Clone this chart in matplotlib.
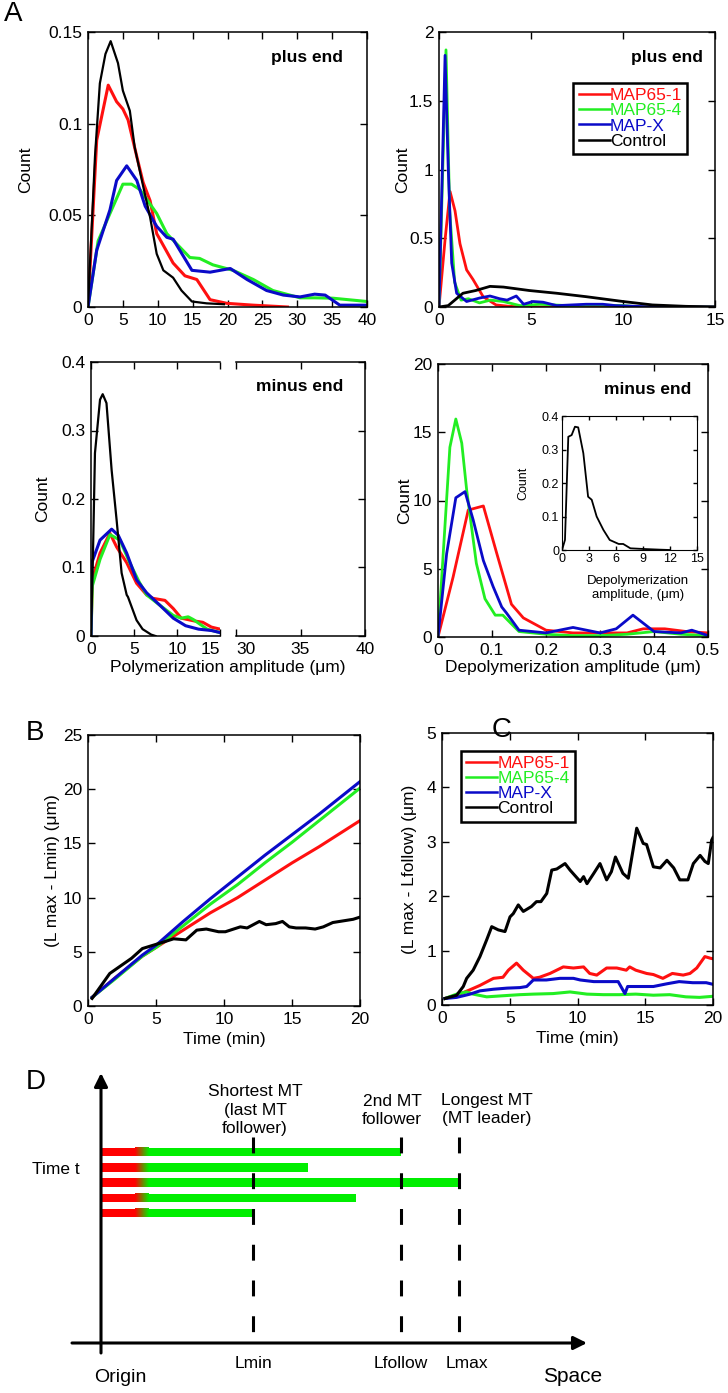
import numpy as np
import matplotlib
matplotlib.use('Agg')
import matplotlib.pyplot as plt
from matplotlib.patches import Rectangle
from matplotlib.colors import LinearSegmentedColormap

plt.rcParams['font.family'] = ['Liberation Sans', 'DejaVu Sans']

# ---- data -------------------------------------------------------------
labels = ['MAP65-1', 'MAP65-4', 'MAP-X', 'Control']
colors = ['#ff1010', '#22ee22', '#0a0ac8', '#000000']

# A, plus end, polymerization amplitude
a1_red_x = [0, 1.25, 2.9, 4.1, 5.0, 5.75, 7.0, 7.9, 8.9, 9.85, 10.3, 12.2, 13.9, 15.6, 17.5, 19.9, 23.7, 28.6]
a1_red_y = [0, 0.091, 0.121, 0.112, 0.108, 0.102, 0.082, 0.068, 0.058, 0.040, 0.037, 0.024, 0.017, 0.015, 0.004, 0.002, 0.001, 0]
a1_green_x = [0, 1.45, 3.15, 5.0, 6.25, 7.45, 9.85, 11.3, 14.6, 16.0, 17.9, 20.8, 23.7, 26.5, 30.4, 32.5, 35.1, 40]
a1_green_y = [0, 0.036, 0.051, 0.067, 0.067, 0.064, 0.051, 0.040, 0.027, 0.0265, 0.023, 0.020, 0.015, 0.009, 0.005, 0.005, 0.0048, 0.003]
a1_blue_x = [0, 1.25, 3.15, 4.1, 5.55, 7.0, 8.2, 9.85, 11.3, 12.2, 14.9, 17.5, 20.4, 22.8, 25.6, 28.0, 30.4, 32.5, 34.0, 36.1, 40]
a1_blue_y = [0, 0.031, 0.053, 0.069, 0.077, 0.069, 0.055, 0.044, 0.038, 0.037, 0.020, 0.019, 0.021, 0.015, 0.009, 0.0065, 0.0055, 0.007, 0.0065, 0.001, 0.001]
a1_black_x = [0, 1.0, 1.7, 2.5, 3.25, 4.3, 5.0, 6.0, 6.7, 7.9, 8.9, 9.85, 10.8, 12.2, 13.4, 14.9, 17.0, 19.5]
a1_black_y = [0, 0.082, 0.122, 0.138, 0.145, 0.133, 0.118, 0.107, 0.087, 0.066, 0.049, 0.029, 0.020, 0.016, 0.009, 0.003, 0.002, 0.0015]

# A, plus end, depolymerization amplitude
a2_red_x = [0, 0.33, 0.6, 0.87, 1.14, 1.5, 1.85, 2.4, 3.1, 3.8, 5, 15]
a2_red_y = [0, 0.49, 0.84, 0.7, 0.46, 0.27, 0.2, 0.075, 0.015, 0.005, 0, 0]
a2_green_x = [0, 0.38, 0.58, 0.85, 1.2, 1.6, 2.2, 2.8, 3.5, 4.4, 5.5, 7, 8.5, 10, 11, 15]
a2_green_y = [0, 1.87, 0.7, 0.18, 0.05, 0.06, 0.03, 0.05, 0.04, 0.01, 0.02, 0.01, 0.015, 0.01, 0, 0]
a2_blue_x = [0, 0.33, 0.5, 0.69, 0.96, 1.5, 2.2, 2.77, 3.3, 3.7, 4.2, 4.6, 5.1, 5.65, 6.4, 7.2, 8.0, 8.9, 9.6, 10.7, 11.5, 15]
a2_blue_y = [0, 1.83, 1.02, 0.32, 0.10, 0.04, 0.065, 0.08, 0.06, 0.05, 0.08, 0.02, 0.04, 0.035, 0.01, 0.015, 0.02, 0.02, 0.01, 0.005, 0, 0]
a2_black_x = [0, 0.5, 1.3, 2.0, 2.77, 3.5, 4.9, 6.4, 8.0, 10.0, 11.6, 13.4, 15]
a2_black_y = [0, 0.01, 0.10, 0.12, 0.15, 0.145, 0.12, 0.10, 0.075, 0.04, 0.015, 0.005, 0]

# A, minus end, polymerization amplitude
a3_red_x = [0, 0.15, 1.05, 2.2, 2.98, 4.15, 5.3, 6.47, 7.2, 8.6, 9.57, 10.5, 12, 13, 14, 15]
a3_red_y = [0, 0.082, 0.121, 0.15, 0.13, 0.107, 0.077, 0.06, 0.055, 0.052, 0.04, 0.026, 0.022, 0.02, 0.013, 0.01]
a3_green_x = [0, 0.15, 1.05, 2.2, 3.37, 4.5, 5.6, 6.47, 8.0, 9.57, 10.5, 11.3, 11.9, 13.5, 15]
a3_green_y = [0, 0.073, 0.112, 0.148, 0.14, 0.107, 0.079, 0.06, 0.045, 0.03, 0.026, 0.028, 0.024, 0.01, 0.005]
a3_blue_x = [0, 0.1, 1.05, 2.4, 3.17, 4.15, 5.3, 6.47, 8.0, 9.57, 11, 12.5, 14, 15]
a3_blue_y = [0, 0.107, 0.14, 0.156, 0.147, 0.121, 0.082, 0.063, 0.045, 0.026, 0.015, 0.01, 0.008, 0.005]
a3_black_x = [0, 0.23, 0.46, 1.05, 1.36, 1.8, 2.4, 2.98, 3.56, 4.15, 4.3, 5.3, 6.0, 7.0, 7.5]
a3_black_y = [0, 0.12, 0.267, 0.345, 0.353, 0.34, 0.242, 0.169, 0.092, 0.06, 0.057, 0.023, 0.01, 0.002, 0]

# A, minus end, depolymerization amplitude
a4_red_x = [0, 0.028, 0.056, 0.084, 0.109, 0.136, 0.158, 0.2, 0.25, 0.3, 0.35, 0.38, 0.42, 0.46, 0.5]
a4_red_y = [0, 4.4, 9.3, 9.6, 6.1, 2.4, 1.4, 0.5, 0.3, 0.3, 0.3, 0.6, 0.6, 0.4, 0.3]
a4_green_x = [0, 0.022, 0.033, 0.044, 0.053, 0.071, 0.087, 0.106, 0.12, 0.15, 0.2, 0.25, 0.3, 0.35, 0.4, 0.45, 0.5]
a4_green_y = [0, 13.9, 15.97, 14.2, 10.8, 5.4, 2.8, 1.6, 1.6, 0.4, 0.2, 0.1, 0.1, 0.2, 0.4, 0.2, 0.1]
a4_blue_x = [0, 0.016, 0.033, 0.05, 0.065, 0.084, 0.102, 0.118, 0.127, 0.15, 0.2, 0.25, 0.3, 0.33, 0.361, 0.4, 0.45, 0.47, 0.5]
a4_blue_y = [0, 6.1, 10.2, 10.65, 8.6, 5.6, 3.7, 2.2, 1.75, 0.5, 0.3, 0.7, 0.3, 0.6, 1.6, 0.4, 0.3, 0.5, 0.1]
inset_x = [0, 0.33, 0.7, 1.07, 1.44, 1.8, 2.37, 2.9, 3.3, 3.85, 4.6, 5.3, 6.3, 6.8, 7.6, 9.1, 10.9, 12.0]
inset_y = [0, 0.03, 0.338, 0.343, 0.368, 0.366, 0.289, 0.159, 0.15, 0.10, 0.06, 0.03, 0.018, 0.018, 0.005, 0.003, 0.001, 0]

# B, L max - L min
b_t = [0.3, 2, 4, 5, 7, 9, 11, 13, 15, 17, 20]
b_red = [0.8, 2.6, 4.6, 5.4, 7.0, 8.6, 10.0, 11.6, 13.2, 14.7, 17.1]
b_green = [0.8, 2.5, 4.6, 5.4, 7.4, 9.4, 11.2, 13.2, 15.1, 17.1, 20.1]
b_blue = [0.8, 2.6, 4.7, 5.6, 7.8, 9.9, 11.9, 13.9, 15.8, 17.7, 20.7]
b_black_t = [0.3, 1.6, 3.2, 4.0, 5.3, 6.3, 7.2, 8.0, 8.7, 9.6, 10.1, 11.2, 11.7, 12.6, 13.1, 13.8, 14.3,
             14.8, 15.3, 16, 16.7, 17.3, 18, 18.5, 19, 19.5, 20]
b_black = [0.7, 3.0, 4.4, 5.3, 5.8, 6.2, 6.1, 7.0, 7.1, 6.85, 6.85, 7.3, 7.2, 7.8, 7.5, 7.6, 7.8,
           7.3, 7.2, 7.2, 7.1, 7.3, 7.7, 7.8, 7.9, 8.0, 8.2]

# C, L max - L follow
c_red_t = [0.22, 1.3, 2.07, 2.8, 3.8, 4.5, 4.9, 5.5, 6.0, 6.74, 7.2, 7.97, 8.95, 9.7, 10.45, 10.9, 11.42, 12.15,
           12.9, 13.6, 13.85, 14.3, 15.1, 15.6, 16.3, 17.0, 17.8, 18.3, 18.8, 19.4, 19.8, 20]
c_red = [0.12, 0.2, 0.28, 0.36, 0.49, 0.51, 0.64, 0.77, 0.64, 0.49, 0.51, 0.58, 0.7, 0.68, 0.7, 0.58, 0.55, 0.68,
         0.68, 0.64, 0.7, 0.64, 0.58, 0.56, 0.49, 0.58, 0.55, 0.58, 0.68, 0.89, 0.86, 0.85]
c_green_t = [0.22, 1.08, 1.8, 2.3, 3.3, 4.5, 5.75, 6.74, 8.2, 9.45, 10.7, 11.9, 13.1, 14.3, 15.6, 16.8, 18.0, 19.0, 20]
c_green = [0.12, 0.2, 0.24, 0.2, 0.15, 0.17, 0.19, 0.2, 0.21, 0.24, 0.2, 0.19, 0.19, 0.2, 0.18, 0.19, 0.15, 0.14, 0.16]
c_blue_t = [0.22, 1.08, 2.07, 2.8, 3.8, 4.8, 5.75, 6.25, 6.74, 7.7, 8.7, 9.7, 10.2, 11.2, 12.15, 13.0, 13.5, 13.7,
            14.6, 15.6, 16.6, 17.5, 18.5, 19.5, 20]
c_blue = [0.12, 0.14, 0.2, 0.26, 0.29, 0.31, 0.32, 0.34, 0.46, 0.46, 0.49, 0.49, 0.46, 0.43, 0.43, 0.43, 0.21, 0.34,
          0.34, 0.34, 0.39, 0.43, 0.41, 0.41, 0.38]
c_black_t = [0.22, 1.08, 1.57, 1.82, 2.3, 2.8, 3.3, 3.67, 4.16, 4.65, 5.02, 5.26, 5.63, 6.0, 6.6, 6.97, 7.3, 7.73,
             8.1, 8.47, 9.08, 9.45, 10.2, 10.45, 10.7, 11.2, 11.66, 12.15, 12.5, 12.8, 13.35, 13.75, 14.1, 14.37,
             14.85, 15.1, 15.6, 16.1, 16.6, 17.1, 17.55, 18.15, 18.55, 19.05, 19.4, 19.65, 19.9, 20]
c_black = [0.12, 0.18, 0.34, 0.49, 0.64, 0.89, 1.2, 1.44, 1.38, 1.35, 1.62, 1.68, 1.84, 1.72, 1.81, 1.9, 1.9, 2.05,
           2.48, 2.5, 2.6, 2.48, 2.27, 2.36, 2.23, 2.42, 2.6, 2.3, 2.45, 2.72, 2.42, 2.33, 2.85, 3.25,
           2.97, 2.95, 2.54, 2.52, 2.66, 2.52, 2.3, 2.3, 2.6, 2.75, 2.64, 2.6, 3.03, 3.08]

# D, schematic
d_bar_len = [3.0, 2.07, 3.58, 2.55, 1.53]
d_mark_x = [1.52, 3.0, 3.58]
d_mark_lab = ['Lmin', 'Lfollow', 'Lmax']
d_top_lab = ['Shortest MT\n(last MT\nfollower)', '2nd MT\nfollower', 'Longest MT\n(MT leader)']
d_top_x = [1.54, 2.91, 3.86]

# ---- helpers ------------------------------------------------------------
W, H = 728, 1393
fig = plt.figure(figsize=(W / 100, H / 100), dpi=100)


def px_axes(l, t, r, b):
    return fig.add_axes([l / W, 1 - b / H, (r - l) / W, (b - t) / H])


def px_text(x, y, s, **kw):
    fig.text(x / W, 1 - y / H, s, **kw)


def style(ax, xt, yt, fs=12.5, tl=5):
    ax.tick_params(direction='in', length=tl, width=1, top=True, right=True, labelsize=fs, pad=4)
    for sp in ax.spines.values():
        sp.set_linewidth(1.1)
    ax.set_xticks(xt)
    ax.set_xticklabels([f'{v:g}' for v in xt])
    ax.set_yticks(yt)
    ax.set_yticklabels([f'{v:g}' for v in yt])


def curves(ax, series, lws):
    lines = []
    for (x, y), c, lw, lab in zip(series, colors, lws, labels):
        ln, = ax.plot(x, y, color=c, lw=lw, label=lab)
        lines.append(ln)
    return lines


def legend(ax, loc, anchor):
    leg = ax.legend(loc=loc, bbox_to_anchor=anchor, fontsize=12.5, labelcolor='linecolor',
                    handlelength=1.8, handletextpad=0.0, labelspacing=0.0, borderpad=0.3,
                    borderaxespad=0, fancybox=False, framealpha=1, edgecolor='k')
    leg.get_frame().set_linewidth(1.8)
    for ln in leg.get_lines():
        ln.set_linewidth(1.8)


# ---- A: plus end, polymerization ---------------------------------------
ax1 = px_axes(88, 32, 367, 307)
curves(ax1, [(a1_red_x, a1_red_y), (a1_green_x, a1_green_y), (a1_blue_x, a1_blue_y),
             (a1_black_x, a1_black_y)], [2.2, 2.2, 2.2, 1.6])
ax1.set_xlim(0, 40)
ax1.set_ylim(0, 0.15)
style(ax1, list(range(0, 41, 5)), [0, 0.05, 0.1, 0.15])
ax1.set_ylabel('Count', fontsize=12.5)
ax1.yaxis.set_label_coords(-0.197, 0.5)
ax1.text(0.914, 0.909, 'plus end', transform=ax1.transAxes, ha='right', va='center',
         fontsize=12.5, fontweight='bold')

# ---- A: plus end, depolymerization -------------------------------------
ax2 = px_axes(439, 32, 715, 307)
curves(ax2, [(a2_red_x, a2_red_y), (a2_green_x, a2_green_y), (a2_blue_x, a2_blue_y),
             (a2_black_x, a2_black_y)], [2.0, 2.0, 2.0, 2.0])
ax2.set_xlim(0, 15)
ax2.set_ylim(0, 2)
style(ax2, [0, 5, 10, 15], [0, 0.5, 1, 1.5, 2])
ax2.set_ylabel('Count', fontsize=12.5)
ax2.yaxis.set_label_coords(-0.105, 0.5)
ax2.text(0.957, 0.909, 'plus end', transform=ax2.transAxes, ha='right', va='center',
         fontsize=12.5, fontweight='bold')
legend(ax2, 'upper right', (0.9, 0.815))

# ---- A: minus end, polymerization (broken axis) ------------------------
ax3 = px_axes(91, 362, 220, 636)
curves(ax3, [(a3_red_x, a3_red_y), (a3_green_x, a3_green_y), (a3_blue_x, a3_blue_y),
             (a3_black_x, a3_black_y)], [2.2, 2.2, 2.2, 1.6])
ax3.set_xlim(0, 15)
ax3.set_ylim(0, 0.4)
style(ax3, [0, 5, 10, 15], [0, 0.1, 0.2, 0.3, 0.4])
ax3.spines['right'].set_visible(False)
ax3.tick_params(right=False)
ax3.set_ylabel('Count', fontsize=12.5)
ax3.yaxis.set_label_coords(-0.318, 0.5)
ax3.xaxis.get_major_ticks()[-1].label1.set_horizontalalignment('right')

ax3b = px_axes(236, 362, 365, 636)
ax3b.set_xlim(30, 40)
ax3b.set_ylim(0, 0.4)
style(ax3b, [30, 35, 40], [0, 0.1, 0.2, 0.3, 0.4])
ax3b.spines['left'].set_visible(False)
ax3b.tick_params(left=False, labelleft=False)
ax3b.xaxis.get_major_ticks()[0].label1.set_horizontalalignment('left')
ax3b.text(0.83, 0.909, 'minus end', transform=ax3b.transAxes, ha='right', va='center',
          fontsize=12.5, fontweight='bold')
px_text(228, 668, 'Polymerization amplitude (\u03bcm)', ha='center', va='center', fontsize=12.5)

# ---- A: minus end, depolymerization ------------------------------------
ax4 = px_axes(438, 364, 708, 637)
curves(ax4, [(a4_red_x, a4_red_y), (a4_green_x, a4_green_y), (a4_blue_x, a4_blue_y)], [2.0, 2.0, 2.0])
ax4.set_xlim(0, 0.5)
ax4.set_ylim(0, 20)
style(ax4, [0, 0.1, 0.2, 0.3, 0.4, 0.5], [0, 5, 10, 15, 20])
ax4.set_ylabel('Count', fontsize=12.5)
ax4.yaxis.set_label_coords(-0.096, 0.5)
ax4.set_xlabel('Depolymerization amplitude (\u03bcm)', fontsize=12.5)
ax4.xaxis.set_label_coords(0.5, -0.084)
ax4.text(0.937, 0.905, 'minus end', transform=ax4.transAxes, ha='right', va='center',
         fontsize=12.5, fontweight='bold')

axi = px_axes(562, 416, 697, 550)
axi.plot(inset_x, inset_y, color='k', lw=1.3)
axi.set_xlim(0, 15)
axi.set_ylim(0, 0.4)
style(axi, [0, 3, 6, 9, 12, 15], [0, 0.1, 0.2, 0.3, 0.4], fs=9, tl=3)
axi.tick_params(pad=2)
for sp in axi.spines.values():
    sp.set_linewidth(0.8)
axi.set_ylabel('Count', fontsize=9)
axi.yaxis.set_label_coords(-0.244, 0.5)
axi.set_xlabel('Depolymerization\namplitude, (\u03bcm)', fontsize=9.5, ha='center')
axi.xaxis.set_label_coords(0.56, -0.187)

# ---- B ------------------------------------------------------------------
axb = px_axes(88, 735, 360, 1006)
curves(axb, [(b_t, b_red), (b_t, b_green), (b_t, b_blue), (b_black_t, b_black)], [2.2] * 4)
axb.set_xlim(0, 20)
axb.set_ylim(0, 25)
style(axb, [0, 5, 10, 15, 20], [0, 5, 10, 15, 20, 25])
axb.set_ylabel('(L max - Lmin) (\u03bcm)', fontsize=12.5)
axb.yaxis.set_label_coords(-0.103, 0.5)
axb.set_xlabel('Time (min)', fontsize=12.5)
axb.xaxis.set_label_coords(0.5, -0.096)

# ---- C ------------------------------------------------------------------
axc = px_axes(442, 733, 713, 1005)
curves(axc, [(c_red_t, c_red), (c_green_t, c_green), (c_blue_t, c_blue), (c_black_t, c_black)], [2.2] * 4)
axc.set_xlim(0, 20)
axc.set_ylim(0, 5)
style(axc, [0, 5, 10, 15, 20], [0, 1, 2, 3, 4, 5])
axc.set_ylabel('(L max - Lfollow) (\u03bcm)', fontsize=12.5)
axc.yaxis.set_label_coords(-0.092, 0.5)
axc.set_xlabel('Time (min)', fontsize=12.5)
axc.xaxis.set_label_coords(0.5, -0.096)
legend(axc, 'upper left', (0.07, 0.935))

# ---- D: schematic -------------------------------------------------------
axd = px_axes(0, 1060, 728, 1393)
axd.axis('off')
xl, yl = (-1.01, 6.27), (-0.5, 2.83)
red_end, grad_end = 0.34, 0.48
row_top, row_step, bar_h = 1.91, 0.153, 0.085
grad_cmap = LinearSegmentedColormap.from_list('rg', ['#ff0000', '#00ee00'])
grad = np.linspace(0, 1, 64).reshape(1, -1)
for i, L in enumerate(d_bar_len):
    y = row_top - i * row_step
    axd.add_patch(Rectangle((0, y - bar_h / 2), red_end, bar_h, color='#ff0000', lw=0))
    axd.imshow(grad, cmap=grad_cmap, aspect='auto', interpolation='bilinear',
               extent=(red_end, grad_end, y - bar_h / 2, y + bar_h / 2))
    axd.add_patch(Rectangle((grad_end, y - bar_h / 2), L - grad_end, bar_h, color='#00ee00', lw=0))

for x, lab in zip(d_mark_x, d_mark_lab):
    axd.plot([x, x], [2.06, 0.03], color='k', lw=2.2, ls=(0, (5.2, 6.5)), zorder=5)
    axd.text(x if lab != 'Lmax' else x + 0.08, -0.21, lab, ha='center', va='center', fontsize=12.5)
for x, lab in zip(d_top_x, d_top_lab):
    axd.text(x, 2.33, lab, ha='center', va='center', fontsize=12.5, linespacing=1.25)

arrow = dict(arrowstyle='-|>', lw=2.2, color='k', mutation_scale=20, shrinkA=0, shrinkB=0)
axd.annotate('', xy=(0, 2.70), xytext=(0, -0.10), arrowprops=arrow)
axd.annotate('', xy=(4.86, 0), xytext=(-0.29, 0), arrowprops=arrow)
axd.text(-0.45, 1.73, 'Time t', ha='center', va='center', fontsize=12.5)
axd.text(0.19, -0.34, 'Origin', ha='center', va='center', fontsize=14)
axd.text(4.72, -0.34, 'Space', ha='center', va='center', fontsize=15)
axd.set_xlim(*xl)
axd.set_ylim(*yl)

# ---- panel letters ------------------------------------------------------
px_text(13, 14, 'A', ha='center', va='center', fontsize=20)
px_text(35, 733, 'B', ha='center', va='center', fontsize=20)
px_text(502, 730, 'C', ha='center', va='center', fontsize=20)
px_text(36, 1082, 'D', ha='center', va='center', fontsize=20)

fig.savefig('out.png', dpi=100)
